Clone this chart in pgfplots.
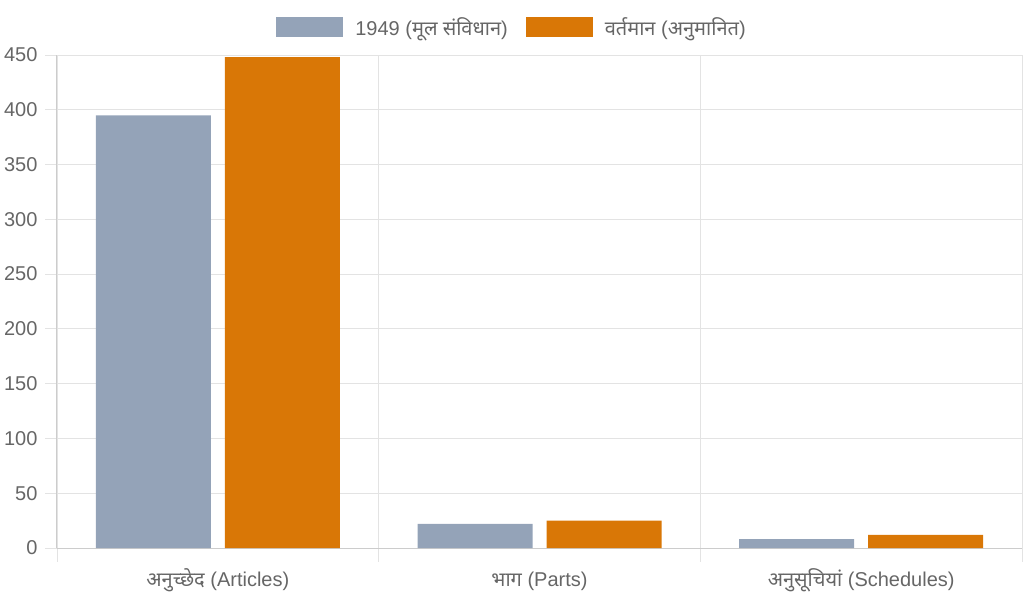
\documentclass[border=0pt]{standalone}
\usepackage{fontspec}
\setmainfont{Liberation Sans}
\newfontfamily\deva[Script=Devanagari]{Noto Sans}
\usepackage{pgfplots}
\pgfplotsset{compat=1.18}
\definecolor{c1}{HTML}{94A3B8}
\definecolor{c2}{HTML}{D97706}
\definecolor{tickc}{HTML}{666666}
\definecolor{gridc}{HTML}{E3E3E3}
\definecolor{axc}{HTML}{CCCCCC}
\begin{document}
\begin{tikzpicture}[x=1pt,y=1pt]
\useasboundingbox (-57,-49) rectangle (967,548);
\begin{axis}[
  at={(0,0)}, anchor=south west,
  scale only axis, width=965pt, height=493pt,
  ybar=14pt, bar width=115pt,
  xmin=-0.5, xmax=2.5, ymin=0, ymax=450,
  xtick={0,1,2},
  xticklabels={{{\deva अनुच्छेद} (Articles)},{{\deva भाग} (Parts)},{{\deva अनुसूचियां} (Schedules)}},
  minor xtick={-0.5,0.5,1.5,2.5},
  ytick={0,50,...,450},
  /pgf/number format/assume math mode=true,
  axis x line*=bottom, axis y line*=left,
  axis line style={axc, line width=1pt},
  x axis line style={-}, y axis line style={-},
  ymajorgrids, xminorgrids,
  major grid style={gridc, line width=0.8pt},
  minor grid style={gridc, line width=0.8pt},
  tick align=outside,
  major tick length=12pt, minor tick length=14pt,
  xtick style={draw=none},
  ytick style={draw=gridc, line width=0.8pt},
  minor x tick style={draw=gridc, line width=0.8pt},
  ticklabel style={font=\fontsize{20}{24}\selectfont, text=tickc},
  yticklabel style={anchor=east, xshift=-4pt},
  xticklabel style={anchor=base, yshift=-26pt},
  legend style={at={(0.4715,1.057)}, anchor=center, draw=none, fill=none,
    legend columns=2, font=\fontsize{20}{24}\selectfont, text=tickc,
    /tikz/every even column/.append style={column sep=16pt},
    /tikz/every odd column/.append style={column sep=10pt}},
  legend image code/.code={\fill[#1, draw=none] (0pt,-10pt) rectangle (67pt,10pt);},
  clip=false,
]
\addplot[fill=c1, draw=none] coordinates {(0,395) (1,22) (2,8)};
\addplot[fill=c2, draw=none] coordinates {(0,448) (1,25) (2,12)};
\legend{{1949 ({\deva मूल संविधान})},{{\deva वर्तमान} ({\deva अनुमानित})}}
\end{axis}
\end{tikzpicture}
\end{document}
